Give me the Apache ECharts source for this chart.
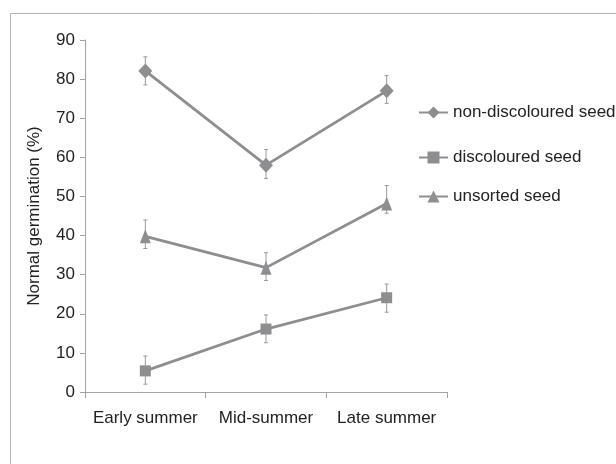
<!DOCTYPE html>
<html>
<head>
<meta charset="utf-8">
<script src="https://cdn.jsdelivr.net/npm/echarts@6/dist/echarts.min.js"></script>
<style>html,body{margin:0;padding:0;background:#fff;}#c{width:616px;height:464px;}</style>
</head>
<body>
<div id="c"></div>
<script>
var categories = ['Early summer', 'Mid-summer', 'Late summer'];
var yTicks = [0, 10, 20, 30, 40, 50, 60, 70, 80, 90];
var nonDiscoloured = [82.1, 58.0, 77.0];
var nonDiscolouredLow = [78.5, 54.6, 73.8];
var nonDiscolouredHigh = [85.7, 62.0, 80.9];
var discoloured = [5.4, 16.1, 24.1];
var discolouredLow = [2.0, 12.6, 20.4];
var discolouredHigh = [9.2, 19.7, 27.6];
var unsorted = [39.8, 31.8, 48.2];
var unsortedLow = [36.7, 28.5, 45.7];
var unsortedHigh = [44.0, 35.6, 52.8];

var FONT = '"Liberation Sans", Arial, sans-serif';
var FS = 17;
var GRAY = '#8e8e90';
var AXIS = '#a3a3a3';

function errData(lo, hi) {
  return categories.map(function (c, i) { return [i, lo[i], hi[i]]; });
}
function errSeries(lo, hi) {
  return {
    type: 'custom',
    z: 1,
    silent: true,
    data: errData(lo, hi),
    renderItem: function (params, api) {
      var x = api.value(0);
      var p1 = api.coord([x, api.value(1)]);
      var p2 = api.coord([x, api.value(2)]);
      var w = 2;
      var st = { stroke: '#9a9a9a', lineWidth: 1 };
      return {
        type: 'group',
        children: [
          { type: 'line', shape: { x1: p1[0], y1: p1[1], x2: p2[0], y2: p2[1] }, style: st },
          { type: 'line', shape: { x1: p1[0] - w, y1: p1[1], x2: p1[0] + w, y2: p1[1] }, style: st },
          { type: 'line', shape: { x1: p2[0] - w, y1: p2[1], x2: p2[0] + w, y2: p2[1] }, style: st }
        ]
      };
    }
  };
}
function lineSeries(name, data, symbol, size) {
  return {
    name: name,
    type: 'line',
    z: 3,
    data: data,
    symbol: symbol,
    symbolSize: size,
    showAllSymbol: true,
    itemStyle: { color: GRAY },
    lineStyle: { color: GRAY, width: 2.8 }
  };
}
function legendAt(name, top) {
  return {
    data: [name],
    left: 418,
    top: top,
    orient: 'vertical',
    itemWidth: 29,
    itemHeight: 15,
    padding: 0,
    selectedMode: false,
    textStyle: { fontFamily: FONT, fontSize: FS, color: '#222', padding: [2, 0, 0, 0] }
  };
}

var chart = echarts.init(document.getElementById('c'), null, { renderer: 'canvas' });
chart.setOption({
  animation: false,
  backgroundColor: '#fff',
  textStyle: { fontFamily: FONT },
  graphic: [{
    type: 'rect',
    shape: { x: 10.5, y: 13.5, width: 640, height: 480 },
    style: { fill: 'none', stroke: '#b4b4b4', lineWidth: 1 },
    silent: true,
    z: -10
  }],
  grid: { left: 85, top: 40, right: 169, bottom: 72, containLabel: false },
  legend: [
    legendAt('non-discoloured seed', 104),
    legendAt('discoloured seed', 149),
    legendAt('unsorted seed', 188)
  ],
  xAxis: {
    type: 'category',
    data: categories,
    boundaryGap: true,
    axisLine: { lineStyle: { color: AXIS, width: 1 } },
    axisTick: { show: true, length: 6, lineStyle: { color: AXIS }, interval: 0 },
    axisLabel: { fontFamily: FONT, fontSize: FS, color: '#222', margin: 18, interval: 0 }
  },
  yAxis: {
    type: 'value',
    min: 0,
    max: 90,
    interval: 10,
    name: 'Normal germination (%)',
    nameLocation: 'middle',
    nameGap: 42,
    nameTextStyle: { fontFamily: FONT, fontSize: FS, color: '#222' },
    splitLine: { show: false },
    axisLine: { show: true, lineStyle: { color: AXIS, width: 1 } },
    axisTick: { show: true, length: 5, lineStyle: { color: AXIS } },
    axisLabel: {
      fontFamily: FONT, fontSize: FS, color: '#222', margin: 10,
      formatter: function (v) { return yTicks.indexOf(v) >= 0 ? String(v) : ''; }
    }
  },
  series: [
    errSeries(nonDiscolouredLow, nonDiscolouredHigh),
    errSeries(discolouredLow, discolouredHigh),
    errSeries(unsortedLow, unsortedHigh),
    lineSeries('non-discoloured seed', nonDiscoloured, 'diamond', [14, 15]),
    lineSeries('discoloured seed', discoloured, 'rect', 11),
    lineSeries('unsorted seed', unsorted, 'triangle', [11, 14])
  ]
});
</script>
</body>
</html>
